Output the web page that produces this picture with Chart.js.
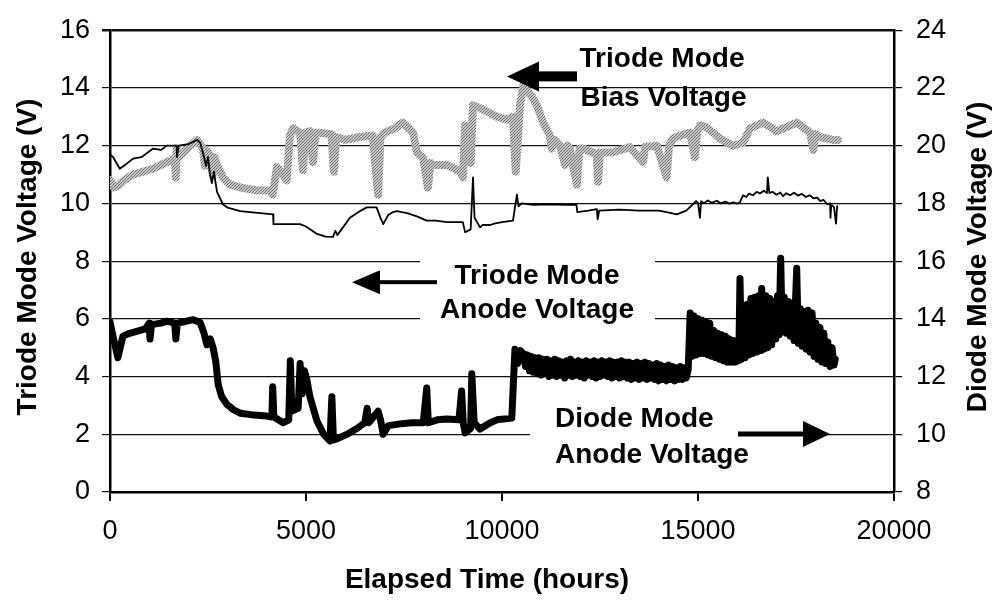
<!DOCTYPE html>
<html><head><meta charset="utf-8">
<script src="https://cdn.jsdelivr.net/npm/chart.js@4/dist/chart.umd.min.js"></script>
<style>html,body{margin:0;padding:0;background:#fff;}#wrap{width:997px;height:602px;}</style>
</head><body><div id="wrap"><canvas id="c" width="997" height="602"></canvas></div>
<script>
// ---------- tick labels ----------
const xTickValues = [0, 5000, 10000, 15000, 20000];
const leftTickValues = [0, 2, 4, 6, 8, 10, 12, 14, 16];
const rightTickValues = [8, 10, 12, 14, 16, 18, 20, 22, 24];

// ---------- Triode Mode Anode Voltage (left axis, thin black) ----------
const anodeHours = [0,80,250,400,590,800,1100,1300,1450,1700,1710,1750,2000,2220,2300,2400,2450,2500,2550,2600,2650,2730,2880,3000,3320,3700,4160,4170,4500,4850,5000,5280,5500,5690,5750,5800,6120,6400,6550,6800,6900,6970,7100,7220,7320,7600,7830,8080,8300,8600,9000,9060,9200,9260,9300,9440,9500,9700,9800,10000,10280,10380,10420,10500,10800,11200,11600,11900,11920,12200,12420,12440,12480,13000,13500,14000,14200,14460,14700,14870,14950,15000,15050,15080,15150,15250,15350,15480,15580,15700,15800,15900,16000,16070,16150,16230,16300,16400,16500,16580,16680,16760,16780,16820,16900,17000,17100,17170,17250,17350,17450,17550,17650,17750,17850,17950,18040,18120,18200,18300,18370,18380,18400,18470,18520,18550];
const anodeVolts = [11.7,11.6,11.2,11.35,11.55,11.6,11.9,11.85,12.0,12.0,11.6,12.0,12.05,12.2,12.1,11.6,11.3,11.6,11.0,10.7,11.1,10.4,9.97,9.85,9.73,9.68,9.62,9.28,9.28,9.28,9.2,8.94,8.85,8.84,9.05,8.9,9.5,9.75,9.86,9.86,9.5,9.28,9.6,9.7,9.73,9.65,9.55,9.4,9.4,9.35,9.35,9.0,9.1,10.9,9.5,9.17,9.25,9.25,9.3,9.35,9.4,10.3,9.9,10.0,9.95,9.97,9.95,9.95,9.7,9.75,9.8,9.45,9.75,9.78,9.75,9.75,9.7,9.62,9.75,9.97,10.08,10.02,9.5,10.08,10.0,10.1,10.02,10.09,10.0,10.06,9.99,10.04,9.99,10.04,10.28,10.22,10.34,10.28,10.4,10.34,10.44,10.36,10.9,10.36,10.4,10.3,10.38,10.25,10.35,10.28,10.37,10.27,10.33,10.22,10.28,10.17,10.2,10.08,10.12,9.97,10.0,9.5,9.95,9.87,9.3,9.9];

// ---------- Diode Mode Anode Voltage (right axis, thick black) ----------
const diodeHours = [0,60,200,330,500,770,900,1000,1020,1060,1300,1450,1650,1680,1720,1900,2120,2300,2400,2470,2560,2630,2700,2760,2850,2980,3150,3320,3600,4000,4130,4150,4180,4420,4560,4600,4640,4800,4850,4900,4960,5020,5100,5280,5450,5610,5660,5700,5800,6050,6300,6500,6560,6600,6840,6900,6970,7100,7400,7700,7990,8080,8120,8350,8590,8900,8970,9010,9060,9200,9230,9290,9440,9700,9870,10250,
  10330,10400,10470,10540,
  10600,10650,10700,10750,10800,10850,10900,10950,11000,11050,11100,11150,11200,11250,11300,11350,11400,11450,11500,11550,11600,11650,11700,11750,11800,11850,11900,11950,12000,12050,12100,12150,12200,12250,12300,12350,12400,12450,12500,12550,12600,12650,12700,12750,12800,12850,12900,12950,13000,13050,13100,13150,13200,13250,13300,13350,13400,13450,13500,13550,13600,13650,13700,13750,13800,13850,13900,13950,14000,14050,14100,14150,14200,14250,14300,14350,14400,14450,14500,14550,14600,14650,14700,14750,
  14800,14850,14900,14950,15000,15050,15100,15150,15200,15250,15300,15350,15400,15450,15500,15550,15600,15650,15700,15750,15800,15850,15900,15950,16000,16040,16071,16110,16150,16200,16250,16300,16350,16400,16450,16500,16550,16600,16624,16680,16730,16780,16830,16880,16930,16980,17030,17070,17109,17150,17200,17250,17300,17350,17400,17450,17518,17560,17610,17660,17710,17760,17810,17860,17910,17960,18010,18060,18110,18160,18210,18260,18310,18370,18420,18470,18500];
const diodeVolts = [13.9,13.5,12.65,13.4,13.5,13.6,13.65,13.85,13.3,13.8,13.85,13.92,13.85,13.3,13.85,13.9,13.97,13.87,13.5,13.1,13.3,13.0,12.5,11.72,11.3,11.04,10.85,10.73,10.68,10.63,10.6,11.65,10.6,10.4,10.5,12.55,10.8,10.9,12.45,11.4,12.2,11.9,11.3,10.46,10.0,9.77,11.3,9.8,9.85,10.0,10.2,10.4,10.9,10.4,10.8,10.5,10.0,10.3,10.36,10.4,10.4,11.6,10.4,10.5,10.53,10.5,11.5,10.4,10.05,10.2,12.1,10.4,10.18,10.4,10.5,10.56,
  12.95,12.45,12.9,12.8,
  12.35,12.75,12.2,12.7,12.15,12.65,12.1,12.65,12.05,12.6,12.1,12.6,12.0,12.55,12.05,12.6,12.0,12.55,12.05,12.5,11.95,12.55,12.05,12.6,12.0,12.5,12.05,12.55,12.0,12.5,11.95,12.55,12.05,12.5,12.0,12.55,11.95,12.5,12.0,12.55,12.05,12.5,12.0,12.55,11.95,12.5,12.0,12.5,11.95,12.55,12.0,12.5,11.95,12.5,11.9,12.45,11.95,12.5,11.9,12.45,11.95,12.5,11.9,12.45,11.95,12.4,11.9,12.45,11.85,12.4,11.9,12.35,11.85,12.4,11.9,12.35,11.85,12.3,11.9,12.35,11.9,12.3,11.95,12.25,
  14.2,12.7,14.1,12.75,14.0,12.8,13.95,12.8,13.9,12.75,13.85,12.7,13.6,12.65,13.5,12.6,13.45,12.55,13.4,12.5,13.3,12.5,13.25,12.5,13.2,12.55,15.4,12.6,14.2,12.65,14.5,12.75,14.7,12.8,14.75,12.85,14.8,12.9,15.05,12.95,14.8,13.0,14.7,13.1,14.6,13.3,14.8,13.45,16.1,13.55,14.75,13.5,14.6,13.4,14.55,13.25,15.75,13.15,14.35,13.05,14.25,12.95,14.3,12.85,14.2,12.7,13.85,12.6,13.7,12.5,13.5,12.45,13.2,12.35,13.0,12.4,12.6];

// ---------- Triode Mode Bias Voltage (left axis, grey) ----------
const biasHours = [0,50,100,200,350,590,850,1100,1450,1650,1680,1700,1720,2050,2220,2370,2420,2460,2550,2620,2660,2730,2880,3060,3320,3750,4080,4150,4260,4410,4510,4590,4670,4850,4920,4980,5100,5180,5240,5360,5650,5710,5770,6000,6380,6700,6840,6900,7010,7270,7470,7730,7830,7990,8110,8180,8240,8600,8930,9000,9060,9130,9200,9260,9440,9870,10120,10280,10350,10460,10540,10710,10890,11050,11220,11270,11340,11480,11610,11680,11730,11910,11980,12070,12420,12450,12500,12830,13260,13600,13650,13950,14200,14260,14360,14540,14800,14920,14980,15050,15220,15560,15890,16150,16330,16660,17010,17520,17860,17940,18000,18110,18440,18570];
const biasVolts = [10.8,10.7,10.55,10.6,10.8,11.0,11.1,11.2,11.43,11.55,10.9,11.9,11.55,12.0,12.2,11.9,11.3,11.85,11.67,11.0,11.6,11.33,10.9,10.65,10.55,10.45,10.45,10.3,11.26,11.0,10.8,12.35,12.6,12.45,11.16,12.45,12.5,11.43,12.45,12.45,12.4,11.1,12.3,12.2,12.3,12.35,10.3,12.3,12.45,12.6,12.8,12.45,11.77,11.57,10.55,11.4,11.33,11.33,11.1,10.9,12.7,12.0,11.4,13.4,13.3,13.0,12.9,13.0,11.1,13.4,14.06,13.8,13.4,12.8,12.35,11.9,12.2,12.0,11.33,12.0,11.9,10.65,11.9,11.9,11.7,10.75,11.75,11.77,11.95,11.43,11.95,12.0,10.9,12.0,12.25,12.35,12.45,11.6,12.5,12.7,12.63,12.25,12.0,12.1,12.6,12.8,12.5,12.8,12.45,11.85,12.4,12.3,12.2,12.2];

// ---------- annotation texts ----------
const xTitle = 'Elapsed Time (hours)';
const leftTitle = 'Triode Mode Voltage (V)';
const rightTitle = 'Diode Mode Voltage (V)';
const biasLabel = ['Triode Mode', 'Bias Voltage'];
const anodeLabel = ['Triode Mode', 'Anode Voltage'];
const diodeLabel = ['Diode Mode', 'Anode Voltage'];

const FONT = "'Liberation Sans', Arial, Helvetica, sans-serif";
Chart.defaults.color = '#000';
Chart.defaults.font.family = FONT;

function pts(xs, ys){ return xs.map((x,i)=>({x:x, y:ys[i]})); }

function greyPattern(){
  const p = document.createElement('canvas'); p.width = 3; p.height = 3;
  const c = p.getContext('2d');
  c.fillStyle = '#c8c8c8'; c.fillRect(0,0,3,3);
  c.fillStyle = '#707070'; c.fillRect(0,0,1,1); c.fillRect(2,1,1,1); c.fillRect(1,2,1,1);
  return c.createPattern(p,'repeat');
}

function arrow(ctx, x1, y1, x2, y2, shaftW, headLen, headW){
  const dir = Math.sign(x2 - x1);
  const hx = x2 - dir*headLen;
  ctx.save();
  ctx.fillStyle = '#000';
  ctx.fillRect(Math.min(x1,hx), y1 - shaftW/2, Math.abs(hx - x1), shaftW);
  ctx.beginPath();
  ctx.moveTo(x2, y2);
  ctx.lineTo(hx, y2 - headW/2);
  ctx.lineTo(hx, y2 + headW/2);
  ctx.closePath();
  ctx.fill();
  ctx.restore();
}

const annotate = {
  id: 'annotate',
  beforeDatasetsDraw(chart){
    const {ctx, scales:{x, y}} = chart;
    ctx.save();
    ctx.fillStyle = '#fff';
    let bx = x.getPixelForValue(7908), bx2 = x.getPixelForValue(13903);
    let by = y.getPixelForValue(8.43), by2 = y.getPixelForValue(5.6);
    ctx.fillRect(bx, by, bx2-bx, by2-by);
    bx = x.getPixelForValue(10714); bx2 = x.getPixelForValue(16071);
    by = y.getPixelForValue(3.14); by2 = y.getPixelForValue(0.75);
    ctx.fillRect(bx, by, bx2-bx, by2-by);
    ctx.restore();
  },
  afterDatasetsDraw(chart){
    const {ctx, scales:{x, y}} = chart;
    ctx.save();
    ctx.fillStyle = '#000';
    ctx.font = 'bold 28px ' + FONT;
    ctx.textBaseline = 'middle';
    ctx.textAlign = 'center';
    ctx.fillText(biasLabel[0], x.getPixelForValue(14082), y.getPixelForValue(14.98));
    ctx.fillText(biasLabel[1], x.getPixelForValue(14120), y.getPixelForValue(13.65));
    arrow(ctx, x.getPixelForValue(11913), y.getPixelForValue(14.4), x.getPixelForValue(10128), y.getPixelForValue(14.4), 10, 32, 30);
    ctx.fillText(anodeLabel[0], x.getPixelForValue(10893), y.getPixelForValue(7.47));
    ctx.fillText(anodeLabel[1], x.getPixelForValue(10893), y.getPixelForValue(6.31));
    arrow(ctx, x.getPixelForValue(8342), y.getPixelForValue(7.27), x.getPixelForValue(6173), y.getPixelForValue(7.27), 4, 28, 24);
    ctx.textAlign = 'left';
    ctx.fillText(diodeLabel[0], x.getPixelForValue(11352), y.getPixelForValue(2.52));
    ctx.fillText(diodeLabel[1], x.getPixelForValue(11352), y.getPixelForValue(1.26));
    arrow(ctx, x.getPixelForValue(16020), y.getPixelForValue(2.01), x.getPixelForValue(18367), y.getPixelForValue(2.01), 5, 27, 26);
    ctx.textAlign = 'center';
    ctx.fillText(xTitle, 487, 580);
    ctx.save(); ctx.translate(28, 257); ctx.rotate(-Math.PI/2); ctx.fillText(leftTitle, 0, 0); ctx.restore();
    ctx.save(); ctx.translate(978, 257); ctx.rotate(-Math.PI/2); ctx.fillText(rightTitle, 0, 0); ctx.restore();
    ctx.restore();
  }
};

const lineBase = {pointRadius:0, tension:0, fill:false, borderJoinStyle:'round', borderCapStyle:'round'};

new Chart(document.getElementById('c'), {
  type: 'line',
  data: {
    datasets: [
      Object.assign({label:'Triode Mode Anode Voltage', data:pts(anodeHours, anodeVolts), borderColor:'#000', borderWidth:1.8, yAxisID:'y'}, lineBase),
      Object.assign({label:'Diode Mode Anode Voltage', data:pts(diodeHours, diodeVolts), borderColor:'#000', borderWidth:7, yAxisID:'y2'}, lineBase),
      Object.assign({label:'Triode Mode Bias Voltage', data:pts(biasHours, biasVolts), borderColor:greyPattern(), borderWidth:8, yAxisID:'y'}, lineBase)
    ]
  },
  options: {
    responsive:false, animation:false, devicePixelRatio:1,
    layout:{padding:{top:22, left:0, right:0, bottom:0}},
    plugins:{legend:{display:false}, tooltip:{enabled:false}},
    scales:{
      x:{
        type:'linear', min:0, max:20000,
        afterBuildTicks(s){ s.ticks = xTickValues.map(v=>({value:v})); },
        afterFit(s){ s.height = 110; },
        ticks:{font:{size:27}, padding:14, maxRotation:0, callback:v=>String(v)},
        grid:{drawOnChartArea:false, drawTicks:true, tickLength:9, color:'#000', lineWidth:2},
        border:{display:true, color:'#000', width:2.5}
      },
      y:{
        position:'left', min:0, max:16,
        afterBuildTicks(s){ s.ticks = leftTickValues.map(v=>({value:v})); },
        afterFit(s){ s.width = 110; },
        ticks:{font:{size:27}, padding:12, callback:v=>String(v)},
        grid:{color:'#111', lineWidth:c=> (c.tick && c.tick.value===16) ? 2.5 : 1.2, tickLength:8},
        border:{display:true, color:'#000', width:2.5}
      },
      y2:{
        position:'right', min:8, max:24,
        afterBuildTicks(s){ s.ticks = rightTickValues.map(v=>({value:v})); },
        afterFit(s){ s.width = 103; },
        ticks:{font:{size:27}, padding:14, callback:v=>String(v)},
        grid:{drawOnChartArea:false, tickLength:8, color:'#000', lineWidth:1.2},
        border:{display:true, color:'#000', width:2.5}
      }
    }
  },
  plugins:[annotate]
});
</script>
</body></html>
